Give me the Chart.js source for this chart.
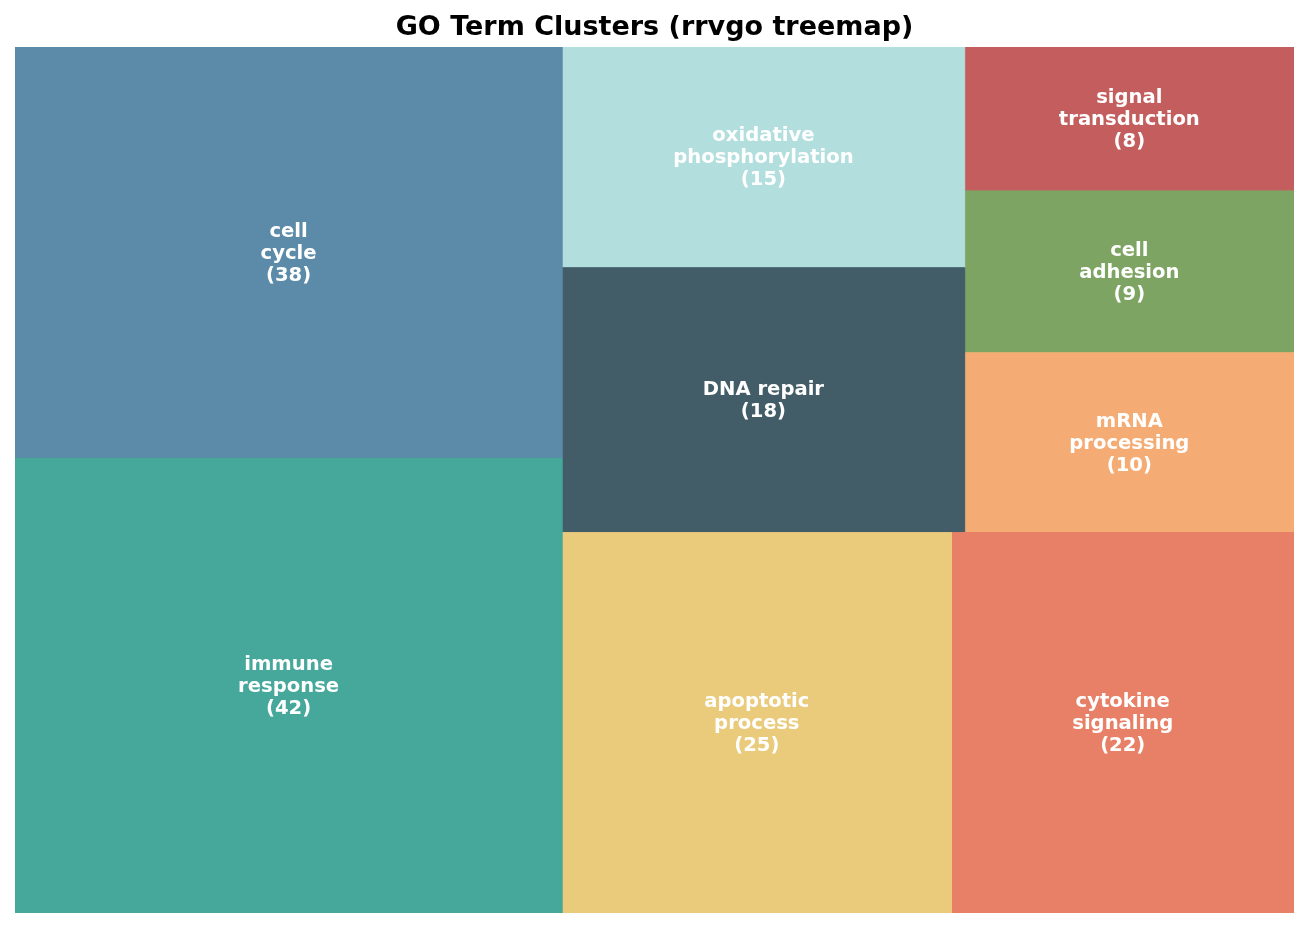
<!DOCTYPE html>
<html>
<head>
<meta charset="utf-8">
<title>GO Term Clusters</title>
<script src="https://cdn.jsdelivr.net/npm/chart.js@4/dist/chart.umd.min.js"></script>
<style>
  html, body { margin: 0; padding: 0; background: #fff; }
  #wrap { width: 1308px; height: 928px; }
</style>
</head>
<body>
<div id="wrap"><canvas id="treemap"></canvas></div>
<script>
// Clusters, largest first (as the treemap lays them out)
const categories = [
  'immune\nresponse',
  'cell\ncycle',
  'apoptotic\nprocess',
  'cytokine\nsignaling',
  'DNA repair',
  'oxidative\nphosphorylation',
  'mRNA\nprocessing',
  'cell\nadhesion',
  'signal\ntransduction'
];
const termCounts = [42, 38, 25, 22, 18, 15, 10, 9, 8];
const cellColors = [
  '#45a89b', '#5b8ba8', '#eacb7c', '#e88067', '#425d68',
  '#b3dede', '#f4ac74', '#7da462', '#c45e5e'
];

// squarify layout (same as the python squarify package), on a 100 x 100 square
function layoutRow(sizes, x, y, dx, dy) {
  const width = sizes.reduce((a, b) => a + b, 0) / dy;
  return sizes.map(s => { const r = { x, y, dx: width, dy: s / width }; y += s / width; return r; });
}
function layoutCol(sizes, x, y, dx, dy) {
  const height = sizes.reduce((a, b) => a + b, 0) / dx;
  return sizes.map(s => { const r = { x, y, dx: s / height, dy: height }; x += s / height; return r; });
}
function layout(sizes, x, y, dx, dy) {
  return dx >= dy ? layoutRow(sizes, x, y, dx, dy) : layoutCol(sizes, x, y, dx, dy);
}
function leftover(sizes, x, y, dx, dy) {
  const area = sizes.reduce((a, b) => a + b, 0);
  if (dx >= dy) { const w = area / dy; return [x + w, y, dx - w, dy]; }
  const h = area / dx; return [x, y + h, dx, dy - h];
}
function worstRatio(sizes, x, y, dx, dy) {
  return Math.max(...layout(sizes, x, y, dx, dy).map(r => Math.max(r.dx / r.dy, r.dy / r.dx)));
}
function squarify(sizes, x, y, dx, dy) {
  if (sizes.length === 0) return [];
  if (sizes.length === 1) return layout(sizes, x, y, dx, dy);
  let i = 1;
  while (i < sizes.length && worstRatio(sizes.slice(0, i), x, y, dx, dy) >= worstRatio(sizes.slice(0, i + 1), x, y, dx, dy)) i++;
  const current = sizes.slice(0, i);
  const [lx, ly, ldx, ldy] = leftover(current, x, y, dx, dy);
  return layout(current, x, y, dx, dy).concat(squarify(sizes.slice(i), lx, ly, ldx, ldy));
}

const total = termCounts.reduce((a, b) => a + b, 0);
const rects = squarify(termCounts.map(v => v * 10000 / total), 0, 0, 100, 100);

// each cell is a closed line shape, filled; a thin same-colour border hides AA seams
const datasets = rects.map((r, i) => ({
  label: categories[i],
  data: [
    { x: r.x, y: r.y }, { x: r.x + r.dx, y: r.y },
    { x: r.x + r.dx, y: r.y + r.dy }, { x: r.x, y: r.y + r.dy }, { x: r.x, y: r.y }
  ],
  showLine: true,
  fill: 'shape',
  backgroundColor: cellColors[i],
  borderColor: cellColors[i],
  borderWidth: 1,
  pointRadius: 0,
  tension: 0
}));

const cellLabels = {
  id: 'cellLabels',
  afterDatasetsDraw(chart) {
    const { ctx, scales: { x, y } } = chart;
    ctx.save();
    ctx.fillStyle = '#ffffff';
    ctx.font = 'bold 19.6px "DejaVu Sans"';
    ctx.textAlign = 'center';
    ctx.textBaseline = 'middle';
    rects.forEach((r, i) => {
      const cx = x.getPixelForValue(r.x + r.dx / 2);
      const cy = y.getPixelForValue(r.y + r.dy / 2);
      const lines = (categories[i] + '\n(' + termCounts[i] + ')').split('\n');
      const lh = 22;
      lines.forEach((t, k) => {
        ctx.fillText(t, cx, cy + 1 + (k - (lines.length - 1) / 2) * lh);
      });
    });
    ctx.restore();
  }
};

new Chart(document.getElementById('treemap'), {
  type: 'scatter',
  data: { datasets },
  options: {
    responsive: true,
    maintainAspectRatio: false,
    animation: false,
    layout: { padding: { left: 15, right: 14, top: 0, bottom: 15 } },
    plugins: {
      legend: { display: false },
      tooltip: { enabled: false },
      title: {
        display: true,
        text: 'GO Term Clusters (rrvgo treemap)',
        color: '#000000',
        font: { family: 'DejaVu Sans', size: 27, weight: 'bold' },
        padding: { top: 12, bottom: 2.6 }
      }
    },
    scales: {
      x: { type: 'linear', min: 0, max: 100, display: false },
      y: { type: 'linear', min: 0, max: 100, display: false }
    }
  },
  plugins: [cellLabels]
});
</script>
</body>
</html>
